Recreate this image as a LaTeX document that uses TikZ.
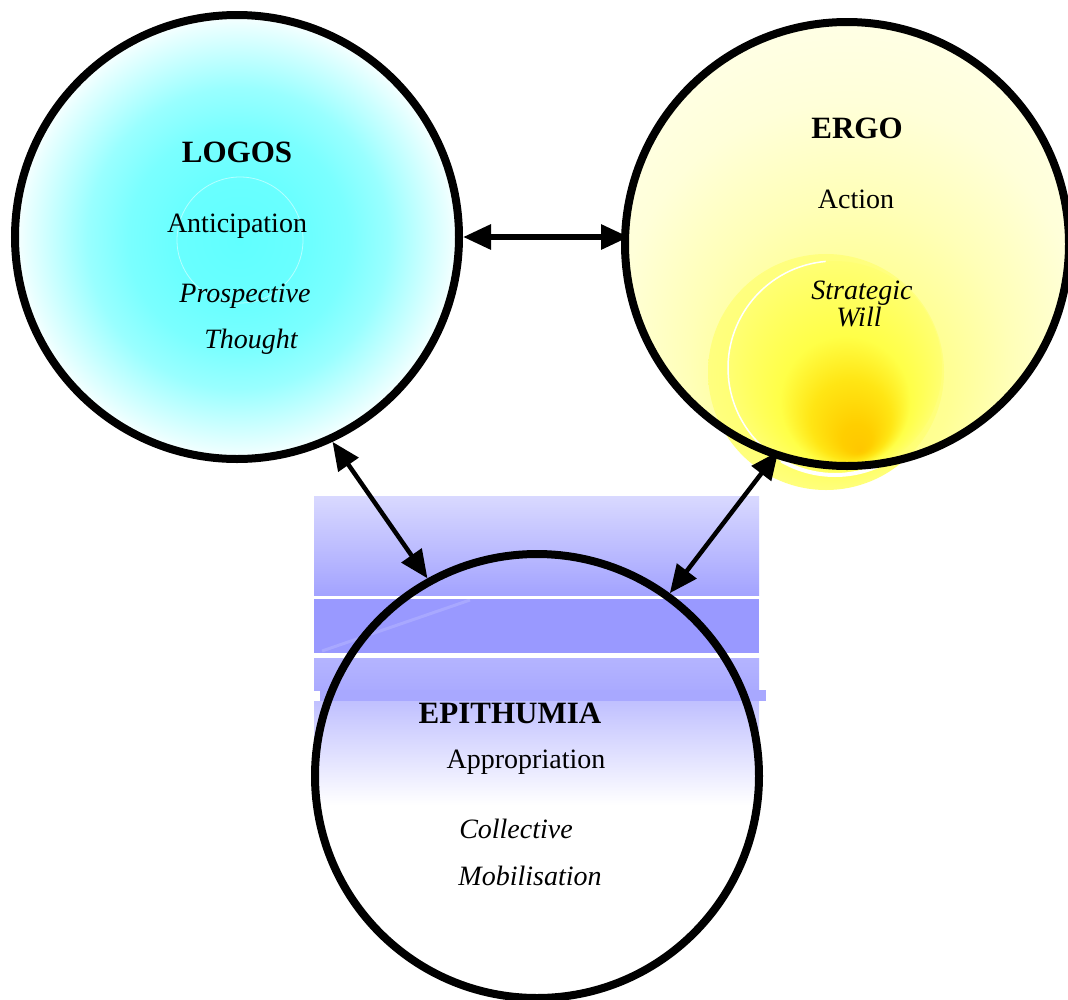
\documentclass[tikz,border=0pt]{standalone}
\usepackage{fontspec}
\setmainfont{Liberation Serif}
\usetikzlibrary{arrows.meta}

\definecolor{epA}{RGB}{217,217,255}
\definecolor{epB}{RGB}{163,163,255}
\definecolor{epC}{RGB}{153,153,255}
\definecolor{epD}{RGB}{180,180,255}
\definecolor{epE}{RGB}{170,170,255}
\definecolor{epF}{RGB}{168,168,255}
\definecolor{epG}{RGB}{192,192,255}

% radial shadings at natural size (distances in bp ~ pixels)
\pgfdeclareradialshading{logoshade}{\pgfpoint{2bp}{-4bp}}{%
  rgb(0bp)=(0.38,1,1); rgb(60bp)=(0.41,1,1); rgb(110bp)=(0.48,1,1);
  rgb(150bp)=(0.60,1,1); rgb(185bp)=(0.78,1,1); rgb(210bp)=(0.91,1,1);
  rgb(222bp)=(0.98,1,1); rgb(232bp)=(1,1,1)}
\pgfdeclareradialshading{ergoshade}{\pgfpoint{3bp}{-186bp}}{%
  rgb(0bp)=(1,1,0.45); rgb(100bp)=(1,1,0.58); rgb(160bp)=(1,1,0.72);
  rgb(230bp)=(1,1,0.85); rgb(300bp)=(1,1,0.91); rgb(440bp)=(1,1,0.96)}
\pgfdeclareradialshading{blobouter}{\pgfpoint{34bp}{-78bp}}{%
  rgb(0bp)=(1,0.86,0.1); rgb(40bp)=(1,0.97,0.3); rgb(80bp)=(1,1,0.42); rgb(120bp)=(1,1,0.50)}
\pgfdeclareradialshading{blobinner}{\pgfpoint{25bp}{-82bp}}{%
  rgb(0bp)=(1,0.78,0); rgb(15bp)=(1,0.81,0); rgb(40bp)=(1,0.90,0.08);
  rgb(65bp)=(1,1,0.28); rgb(90bp)=(1,1,0.38); rgb(109bp)=(1,1,0.46)}

\tikzset{
  ring/.style={circle, minimum size=444pt, inner sep=0pt, line width=8pt},
  shadebox/.style={inner sep=0pt, outer sep=0pt},
  dbl/.style={{Triangle[length=28pt,width=24pt]}-{Triangle[length=28pt,width=24pt]}},
  title/.style={font=\fontsize{31}{36}\selectfont\bfseries, anchor=base, inner sep=0pt},
  word/.style={font=\fontsize{28}{34}\selectfont, anchor=base, inner sep=0pt},
  iword/.style={font=\fontsize{28}{34}\selectfont\itshape, anchor=base, inner sep=0pt},
}

\begin{document}
\begin{tikzpicture}[x=1pt,y=-1pt]
\useasboundingbox (0,0) rectangle (1068,999);
\fill[white] (0,0) rectangle (1068,999);

% blue bands behind EPITHUMIA
\shade[top color=epA, bottom color=epB] (314,496) rectangle (759,595);
\fill[epC] (314,599) rectangle (759,653);
\draw[white, opacity=0.15, line width=3pt] (322,651) -- (470,600);
\shade[top color=epD, bottom color=epE] (314,658) rectangle (759,690);
\fill[epF] (320,690) rectangle (766,701);
\shade[top color=epG, bottom color=white] (314,701) rectangle (759,805);

% LOGOS fill
\begin{scope}
  \clip (237,237) circle[radius=222pt];
  \node[shadebox] (lfill) at (237,237) {\pgfuseshading{logoshade}};
\end{scope}
\draw[white, opacity=0.5, line width=0.8pt] (240,240) circle[radius=63pt];
\node[ring, draw] (logos) at (237,237) {};

% ERGO fill
\begin{scope}
  \clip (847,244) circle[radius=222pt];
  \node[shadebox] (efill) at (847,244) {\pgfuseshading{ergoshade}};
\end{scope}
\begin{scope}
  \clip (826,372) circle[radius=118pt];
  \node[shadebox] (bloba) at (826,372) {\pgfuseshading{blobouter}};
\end{scope}
\begin{scope}
  \clip (835,368) circle[radius=107pt];
  \node[shadebox] (blobb) at (835,368) {\pgfuseshading{blobinner}};
\end{scope}
\draw[white, line width=1.5pt] (835,368) ++(95:107pt) arc[start angle=95, end angle=240, radius=107pt];
\draw[white, line width=4pt] (835,368) ++(240:107pt) arc[start angle=240, end angle=300, radius=107pt];
\node[ring, draw] (ergo) at (847,244) {};

% EPITHUMIA
\node[ring, draw] (epi) at (537,776) {};

% texts
\node[title] (t1) at (237,162) {LOGOS};
\node[word] (t2) at (237,232) {Anticipation};
\node[iword] (t3) at (245,302) {Prospective};
\node[iword] (t4) at (251,348) {Thought};
\node[title] (t5) at (857,138) {ERGO};
\node[word] (t6) at (856,208) {Action};
\node[iword] (t7) at (862,299) {Strategic};
\node[iword] (t8) at (859,326) {Will};
\node[title] (t9) at (510,723) {EPITHUMIA};
\node[word] (t10) at (526,768) {Appropriation};
\node[iword] (t11) at (516,838) {Collective};
\node[iword] (t12) at (530,885) {Mobilisation};

% connectors
\draw[dbl, line width=6pt, shorten >=-8pt] (logos.east) -- (logos.east -| ergo.west);
\draw[dbl, line width=4.5pt] (logos.-65.4) -- (epi.119.3);
\draw[dbl, line width=4.5pt, shorten <=-8pt] (ergo.-109.5) -- (epi.54.8);
\end{tikzpicture}
\end{document}
